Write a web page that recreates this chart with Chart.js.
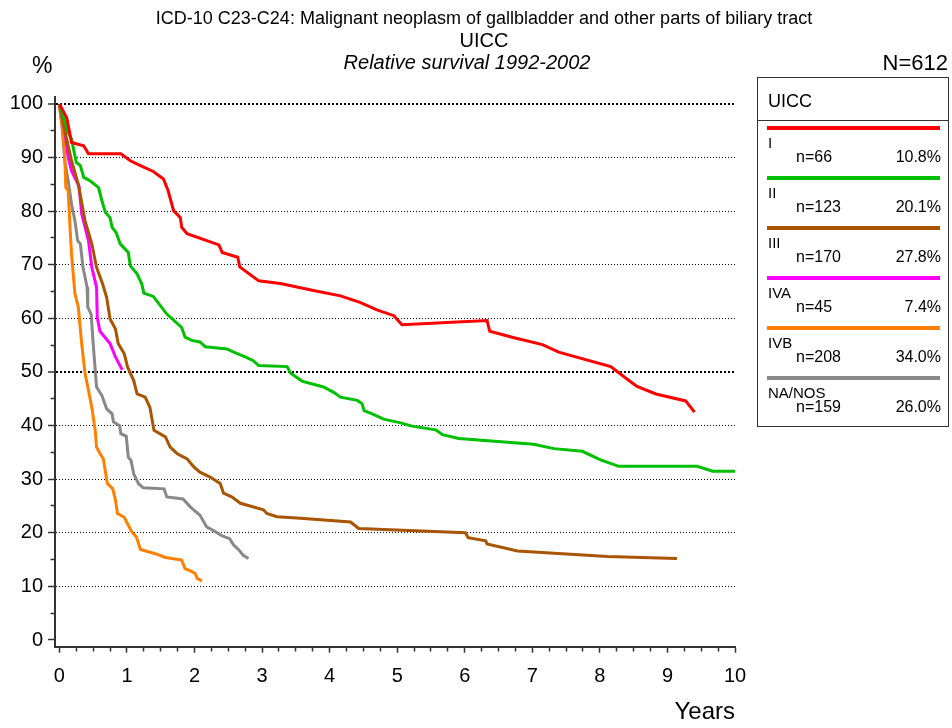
<!doctype html>
<html lang="en">
<head>
<meta charset="UTF-8" />
<title>Relative survival by UICC stage</title>
<script src="https://cdn.jsdelivr.net/npm/chart.js"></script>
<style>
    body { margin: 0; background: #fff; }
    #wrap { position: relative; width: 952px; height: 728px; font-family: "Liberation Sans", Arial, sans-serif; color: #000; }
    #wrap canvas { position: absolute; left: 0; top: 0; }
    .narrow { position: absolute; font-family: "Liberation Sans Narrow", "Arial Narrow", "Liberation Sans", sans-serif; white-space: nowrap; line-height: 1; }
    #t1 { left: 0; width: 968px; top: 9px; text-align: center; font-size: 18px; }
    #t2 { left: 0; width: 968px; top: 30px; text-align: center; font-size: 20px; }
    #t3 { left: 0; width: 934px; top: 52px; text-align: center; font-size: 20px; font-style: italic; }
    #pct { left: 32px; top: 54px; font-size: 23px; }
    #nall { right: 4px; top: 52px; font-size: 22px; }
    #legend { position: absolute; left: 757px; top: 77px; width: 192px; height: 350px; border: 1.5px solid #333; box-sizing: border-box; }
    #legend .head { height: 43px; border-bottom: 1.5px solid #333; font-size: 18px; padding: 13px 0 0 10px; box-sizing: border-box; }
    #legend .row { position: relative; height: 50px; }
    #legend .bar { position: absolute; left: 9px; right: 8px; top: 5px; height: 4px; }
    #legend .lab { position: absolute; left: 10px; top: 13px; font-size: 15px; }
    #legend .n { position: absolute; left: 38px; top: 27px; font-size: 16px; }
    #legend .p { position: absolute; right: 7px; top: 27px; font-size: 16px; }
</style>
</head>
<body>
<div id="wrap">
    <canvas id="chart" width="952" height="728"></canvas>
    <div class="narrow" id="t1">ICD-10 C23-C24: Malignant neoplasm of gallbladder and other parts of biliary tract</div>
    <div class="narrow" id="t2">UICC</div>
    <div class="narrow" id="t3">Relative survival 1992-2002</div>
    <div class="narrow" id="pct">%</div>
    <div class="narrow" id="nall">N=612</div>
    <div id="legend"><div class="head">UICC</div></div>
</div>

<script>
// survival curves, [years, percent]
const stageI = [[0,100],[0.11,97.4],[0.18,92.8],[0.36,92.2],[0.43,90.7],[0.91,90.7],[1.05,89.4],[1.2,88.5],[1.39,87.4],[1.54,86.0],[1.61,83.8],[1.69,80.1],[1.79,78.8],[1.81,77.0],[1.89,75.8],[2.36,73.7],[2.41,72.3],[2.64,71.4],[2.67,69.6],[2.95,67.0],[3.27,66.5],[3.76,65.2],[4.16,64.2],[4.45,63.0],[4.70,61.6],[4.95,60.5],[5.07,58.8],[6.33,59.6],[6.37,57.6],[6.73,56.4],[7.15,55.1],[7.39,53.7],[8.16,51.0],[8.43,48.4],[8.55,47.3],[8.83,45.9],[9.27,44.6],[9.40,42.5]];
const stageII = [[0,100],[0.13,94.7],[0.18,93.4],[0.25,89.1],[0.31,88.5],[0.36,86.3],[0.45,85.7],[0.58,84.4],[0.63,81.9],[0.68,79.8],[0.75,78.8],[0.78,77.0],[0.84,76.0],[0.90,73.9],[1.02,72.3],[1.05,69.8],[1.15,68.3],[1.22,66.4],[1.25,64.7],[1.39,64.1],[1.59,60.8],[1.67,59.9],[1.81,58.3],[1.86,56.5],[1.96,55.9],[2.08,55.6],[2.16,54.7],[2.48,54.3],[2.58,53.7],[2.75,52.8],[2.87,52.1],[2.95,51.2],[3.37,51.0],[3.42,49.8],[3.59,48.3],[3.91,47.2],[4.06,46.2],[4.16,45.3],[4.41,44.7],[4.48,44.1],[4.51,42.8],[4.63,42.2],[4.80,41.2],[5.05,40.5],[5.22,39.9],[5.57,39.2],[5.67,38.3],[5.91,37.6],[7.02,36.5],[7.32,35.7],[7.74,35.2],[8.01,33.6],[8.28,32.4],[9.44,32.4],[9.67,31.5],[10.0,31.5]];
const stageIII = [[0,100],[0.08,95],[0.18,89.4],[0.28,85],[0.38,78.2],[0.48,73.9],[0.55,69.5],[0.64,66.4],[0.70,63.9],[0.75,59.9],[0.83,58.0],[0.87,55.3],[0.96,53.4],[1.01,50.9],[1.10,48.4],[1.15,45.9],[1.27,45.3],[1.34,43.4],[1.40,39.1],[1.57,37.9],[1.64,36.0],[1.74,34.8],[1.89,33.8],[1.99,32.3],[2.08,31.3],[2.23,30.4],[2.38,29.2],[2.43,27.4],[2.55,26.7],[2.68,25.5],[3.02,24.3],[3.07,23.6],[3.22,23.0],[3.57,22.7],[4.31,22.0],[4.43,20.8],[6.01,20.0],[6.05,19.1],[6.31,18.5],[6.33,17.9],[6.78,16.6],[8.11,15.6],[9.14,15.2]];
const stageIVA = [[0,100],[0.08,95],[0.13,90],[0.18,87.5],[0.29,84.7],[0.33,79.5],[0.43,74.5],[0.48,69.5],[0.55,65.8],[0.56,60.2],[0.60,57.6],[0.75,55.3],[0.83,52.8],[0.93,50.4]];
const stageIVB = [[0,100],[0.06,93.7],[0.08,90],[0.095,84.4],[0.13,83.8],[0.16,76.4],[0.18,72],[0.23,64.6],[0.28,62.1],[0.33,55.3],[0.38,49.7],[0.43,46.6],[0.48,43.4],[0.53,39.1],[0.55,36.0],[0.60,34.8],[0.65,33.8],[0.71,29.2],[0.79,28.2],[0.83,26.1],[0.86,23.6],[0.96,22.9],[1.02,21.4],[1.07,20.2],[1.14,19.2],[1.20,16.9],[1.42,16.1],[1.57,15.4],[1.81,14.9],[1.86,13.3],[1.94,12.9],[2.01,12.4],[2.04,11.5],[2.11,11.0]];
const stageNA = [[0,100],[0.04,95.6],[0.08,89.4],[0.13,85.7],[0.18,81.3],[0.23,78.2],[0.27,74.5],[0.31,73.9],[0.35,69.5],[0.41,65.8],[0.42,62.1],[0.47,60.8],[0.50,55.3],[0.55,47.2],[0.63,45.6],[0.70,43.1],[0.78,42.2],[0.80,40.7],[0.89,40.0],[0.91,38.5],[0.99,38.0],[1.02,34.1],[1.06,33.5],[1.10,31.0],[1.17,29.2],[1.24,28.4],[1.55,28.2],[1.59,26.7],[1.83,26.3],[1.94,24.8],[2.08,23.3],[2.18,21.1],[2.31,20.2],[2.41,19.4],[2.52,18.9],[2.58,17.7],[2.65,16.9],[2.72,15.8],[2.80,15.2]];

const stageNames = ['I', 'II', 'III', 'IVA', 'IVB', 'NA/NOS'];
const stageCounts = [66, 123, 170, 45, 208, 159];
const stageShares = ['10.8%', '20.1%', '27.8%', '7.4%', '34.0%', '26.0%'];
const stageColors = ['#ff0000', '#00c000', '#a85400', '#ff00ff', '#ff8000', '#888888'];
const curves = [stageI, stageII, stageIII, stageIVA, stageIVB, stageNA];

const xTickLabels = [0, 1, 2, 3, 4, 5, 6, 7, 8, 9, 10];
const yTickLabels = [0, 10, 20, 30, 40, 50, 60, 70, 80, 90, 100];

// legend box
const legend = document.getElementById('legend');
stageNames.forEach(function (name, i) {
    let row = document.createElement('div');
    row.className = 'row';
    row.innerHTML = '<div class="bar" style="background:' + stageColors[i] + '"></div>' +
        '<div class="lab">' + name + '</div>' +
        '<div class="n">n=' + stageCounts[i] + '</div>' +
        '<div class="p">' + stageShares[i] + '</div>';
    legend.appendChild(row);
});

// minor ticks every 0.25 year / 5 percent
let xTicks = [];
for (let k = 0; k <= 40; k++) xTicks.push(k / 4);
let yTicks = [];
for (let k = 0; k <= 20; k++) yTicks.push(k * 5);

const datasets = curves.map(function (c, i) {
    return {
        label: stageNames[i],
        data: c.map(p => ({ x: p[0], y: p[1] })),
        borderColor: stageColors[i],
        borderWidth: 3,
        pointRadius: 0,
        tension: 0,
        fill: false
    };
});

const axisColor = '#333';

new Chart(document.getElementById('chart'), {
    type: 'line',
    data: { datasets: datasets },
    options: {
        responsive: false,
        animation: false,
        events: [],
        layout: { padding: { top: 97, right: 217, left: 0, bottom: 0 } },
        plugins: { legend: { display: false }, tooltip: { enabled: false }, title: { display: false } },
        scales: {
            x: {
                type: 'linear',
                min: -0.065,
                max: 10,
                afterFit: function (s) { s.height = 81.3; },
                afterBuildTicks: function (s) { s.ticks = xTicks.map(v => ({ value: v })); },
                grid: {
                    drawOnChartArea: false,
                    tickLength: 6,
                    tickWidth: 1.5,
                    tickColor: axisColor,
                    tickBorderDash: function (ctx) {
                        return xTickLabels.includes(ctx.tick.value) ? [] : [3.5, 20];
                    }
                },
                border: { color: axisColor, width: 2 },
                ticks: {
                    autoSkip: false,
                    maxRotation: 0,
                    padding: 12,
                    color: '#000',
                    font: { family: '"Liberation Sans", Arial, sans-serif', size: 20 },
                    callback: function (v) { return xTickLabels.includes(v) ? String(v) : ''; }
                },
                title: {
                    display: true,
                    text: 'Years',
                    align: 'end',
                    color: '#000',
                    padding: { top: 0, bottom: 1 },
                    font: { family: '"Liberation Sans", Arial, sans-serif', size: 24 }
                }
            },
            y: {
                type: 'linear',
                min: -1.25,
                max: 101.3,
                afterFit: function (s) { s.width = 55; },
                afterBuildTicks: function (s) { s.ticks = yTicks.map(v => ({ value: v })); },
                grid: {
                    color: function (ctx) {
                        let v = ctx.tick.value;
                        return (v > 0 && v % 10 === 0) ? '#000' : 'rgba(0,0,0,0)';
                    },
                    lineWidth: function (ctx) {
                        let v = ctx.tick.value;
                        return (v === 100 || v === 50) ? 2 : 1;
                    },
                    tickLength: 7,
                    tickWidth: 1.5,
                    tickColor: axisColor,
                    tickBorderDash: function (ctx) {
                        return yTickLabels.includes(ctx.tick.value) ? [] : [0, 2.5, 20];
                    }
                },
                border: {
                    color: axisColor,
                    width: 2,
                    dash: function (ctx) {
                        let v = ctx.tick ? ctx.tick.value : 0;
                        return (v === 100 || v === 50) ? [2, 2] : [1, 2];
                    }
                },
                ticks: {
                    autoSkip: false,
                    padding: 5,
                    color: '#000',
                    font: { family: '"Liberation Sans", Arial, sans-serif', size: 20 },
                    callback: function (v) { return yTickLabels.includes(v) ? String(v) : ''; }
                }
            }
        }
    }
});
</script>
</body>
</html>
